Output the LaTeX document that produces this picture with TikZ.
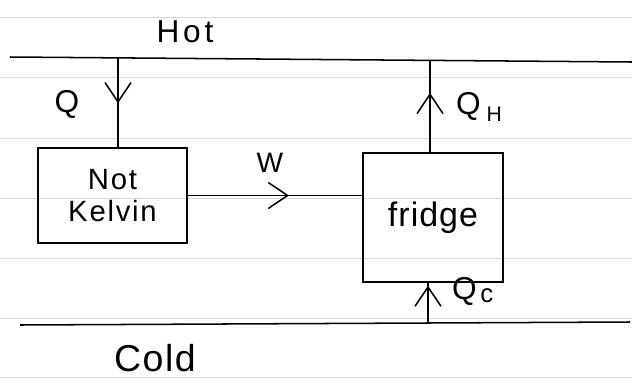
\documentclass[tikz,border=0pt]{standalone}
\usepackage{fontspec}
\setmainfont{Liberation Sans}
\usetikzlibrary{arrows.meta,decorations.markings}
\begin{document}
\begin{tikzpicture}[x=0.03cm,y=-0.03cm,
  ink/.style={line width=1.3pt,black},
  rule/.style={line width=0.6pt,gray!30},
  boxnode/.style={draw,ink,inner sep=0pt},
  lbl/.style={inner sep=0pt,font=\fontsize{27}{30}\selectfont},
  midarrow/.style={ink,decoration={markings,mark=at position #1 with {\arrow{Straight Barb[length=0.58cm,width=0.78cm,line width=1.3pt]}}},postaction={decorate}}
]
\fill[white] (0,0) rectangle (632,378);
\useasboundingbox (0,0) rectangle (632,378);
% ruled paper
\foreach \yy in {17,77,138,198,258,318,377}
  \draw[rule] (0,\yy) -- (632,\yy);
% reservoirs
\coordinate (hotL) at (10,57);
\coordinate (hotR) at (632,62);
\coordinate (coldL) at (20,325);
\coordinate (coldR) at (630,322);
\draw[ink] (hotL) -- (hotR);
\draw[ink] (coldL) -- (coldR);
\node[lbl,font=\fontsize{27}{30}\selectfont\addfontfeature{LetterSpace=12}] (hot) at (185,32) {Hot};
\node[lbl,font=\fontsize{32}{36}\selectfont\addfontfeature{LetterSpace=4}] (cold) at (155,358) {Cold};
% boxes
\node[boxnode,minimum width=4.47cm,minimum height=2.85cm,align=center,font=\fontsize{25}{28}\selectfont\addfontfeature{LetterSpace=6}] (nk) at (112.5,195.5) {Not\\Kelvin};
\node[boxnode,minimum width=4.2cm,minimum height=3.87cm,font=\fontsize{29}{32}\selectfont\addfontfeature{LetterSpace=3}] (fr) at (433,217.5) {fridge};
% connectors
\coordinate (qtop) at (118,57.5);
\draw[midarrow=0.51] (qtop) -- (qtop |- nk.north);
\node[lbl] (qlbl) at (67,104) {Q};
\draw[midarrow=0.58] (nk.east) -- (nk.east -| fr.west);
\node[lbl,font=\fontsize{24}{26}\selectfont] (wlbl) at (270,163) {W};
\coordinate (qhtop) at (430,61);
\draw[midarrow=0.65] (qhtop |- fr.north) -- (qhtop);
\node[lbl,anchor=west] (qhlbl) at (456,107) {Q\kern5pt\raisebox{-0.45ex}{\fontsize{18}{20}\selectfont H}};
\coordinate (qcbot) at (428,323);
\draw[midarrow=0.93] (qcbot) -- (qcbot |- fr.south);
\node[lbl,anchor=west] (qclbl) at (452,291) {Q\kern3pt\raisebox{-0.2ex}{\fontsize{22}{24}\selectfont c}};
\end{tikzpicture}
\end{document}
